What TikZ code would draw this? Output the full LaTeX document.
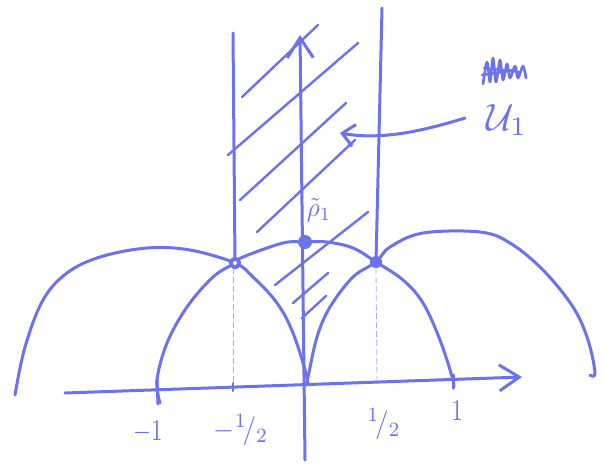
\documentclass[tikz,border=0pt]{standalone}
\usepackage{graphicx}
\usetikzlibrary{arrows.meta}
\definecolor{pen}{RGB}{108,114,238}
\begin{document}
\begin{tikzpicture}[x=1pt,y=-1pt,
  stroke/.style={draw=pen, line width=3pt, line cap=round, line join=round},
  hatch/.style={draw=pen, line width=2.4pt, line cap=round},
  guide/.style={draw=pen!60, line width=0.8pt, dash pattern=on 6pt off 3pt},
  dot/.style={circle, fill=pen, inner sep=0pt, minimum size=12pt},
  lab/.style={text=pen, inner sep=1pt},
  barb/.style={-{Straight Barb[length=20pt,width=26pt,line width=3pt]}}]
\useasboundingbox (0,0) rectangle (604,472);
% hatching of the strip
\draw[hatch] (242,97) -- (318,25);
\draw[hatch] (228,155) -- (358,43);
\draw[hatch] (240,200) -- (346,103);
\draw[hatch] (257,232) -- (355,140);
\draw[hatch] (275,285) -- (368,212);
\draw[hatch] (293,303) -- (328,273);
\draw[hatch] (302,318) -- (326,296);
% dashed guides
\draw[guide] (233,268) -- (233,392);
\draw[guide] (376,268) -- (377,382);
% named points
\coordinate (pl) at (235,263);
\coordinate (pm) at (305,242);
\coordinate (pr) at (376,262);
% vertical walls of the strip
\draw[stroke] (233,33) -- (pl);
\draw[stroke] (382,8) -- (pr);
% axes
\coordinate (xs) at (65,393);
\coordinate (xe) at (522,377);
\coordinate (ys) at (305,460);
\coordinate (ye) at (300,35);
\draw[stroke, barb] (xs) -- (xe);
\draw[stroke, barb] (ys) -- (ye);
% ticks
\draw[stroke] (157,380) -- (158,404);
\draw[stroke, line width=2pt] (233,383) -- (233,391);
\draw[stroke] (453,375) -- (453,388);
% arcs
\draw[stroke] plot[smooth, tension=0.6] coordinates {(15,395) (25,347) (43,300) (67,273) (100,257) (147,248) (190,250) (pl) (253,277) (277,303) (293,333) (307,377) (306,385)};
\draw[stroke] plot[smooth, tension=0.6] coordinates {(160,403) (157,380) (167,343) (187,307) (213,277) (pl) (243,257) (283,243) (pm) (327,242) (353,248) (pr) (403,280) (423,303) (440,340) (453,380) (453,387)};
\draw[stroke] plot[smooth, tension=0.6] coordinates {(306,385) (308,377) (317,337) (330,307) (353,277) (pr) (390,247) (423,233) (480,232) (510,243) (543,270) (573,307) (588,340) (595,373) (590,375)};
% points
\node[dot] (a) at (pl) {};
\node[circle, fill=white, inner sep=0pt, minimum size=4pt] at (pl) {};
\node[dot, minimum size=14pt] (b) at (pm) {};
\node[dot] (c) at (pr) {};
% labels
\node[lab] (m1) at (148,432) {\scalebox{2.3}[3]{$-1$}};
\node[lab] (mh) at (241,430) {\scalebox{2.7}[2.9]{$-{}^{1}\!/{}_{2}$}};
\node[lab] (ph) at (384,424) {\scalebox{2.7}[2.9]{${}^{1}\!/{}_{2}$}};
\node[lab] (p1) at (457,411) {\scalebox{2.3}[3]{$1$}};
\node[lab] (rho) at (319,210) {\scalebox{2.5}[2.7]{$\tilde{\rho}_1$}};
\node[lab] (U) at (507,120) {\scalebox{3.8}{$\mathcal{U}_{1}$}};
% pointer from U1 into the strip
\coordinate (us) at (465,118);
\coordinate (ue) at (340,133);
\draw[stroke, -{Straight Barb[length=12pt,width=22pt,line width=3pt]}] (us) .. controls (420,132) and (380,140) .. (ue);
% scratched-out word
\draw[draw=pen, line width=2.6pt, line cap=round, line join=round] plot[smooth, tension=0.5] coordinates {(483,84) (487,62) (490,82) (493,58) (496,82) (500,60) (503,80) (507,64) (510,78) (515,66) (518,78) (523,66) (526,78)};
\draw[draw=pen, line width=2.6pt, line cap=round] (482,75) -- (514,70);
\draw[draw=pen, line width=2.2pt, line cap=round] (484,68) -- (520,72);
\end{tikzpicture}
\end{document}
